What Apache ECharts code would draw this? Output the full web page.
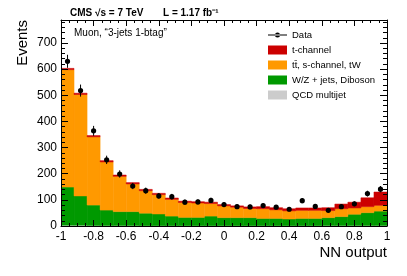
<!DOCTYPE html>
<html>
<head>
<meta charset="utf-8">
<script src="https://cdn.jsdelivr.net/npm/echarts@6/dist/echarts.min.js"></script>
<style>html,body{margin:0;padding:0;background:#fff;}#c{width:407px;height:276px;}</style>
</head>
<body>
<div id="c"></div>
<script>
// Bin edges of the NN output histogram
const binEdges = [-1, -0.92, -0.84, -0.76, -0.68, -0.6, -0.52, -0.44, -0.36, -0.28, -0.2, -0.12, -0.04,
  0.04, 0.12, 0.2, 0.28, 0.36, 0.44, 0.52, 0.6, 0.68, 0.76, 0.84, 0.92, 1];

// Stacked contributions (bottom to top)
const qcdMultijet = [3, 3, 2, 2, 2, 2, 1, 1, 1, 1, 1, 1, 1, 1, 1, 1, 1, 1, 1, 1, 2, 2, 2, 2, 2];
const wzJets      = [146, 112, 78, 59, 53, 53, 48, 45, 37, 32, 32, 37, 31, 31, 31, 28, 28, 26, 28, 28, 30, 34, 43, 49, 55];
const ttbarOther  = [449, 388, 261, 184, 135, 106, 86, 74, 64, 57, 55, 48, 45, 40, 35, 37, 33, 31, 31, 31, 27, 30, 24, 23, 22];
const tChannel    = [5, 5, 5, 5, 5, 5, 5, 5, 5, 5, 5, 5, 5, 5, 6, 8, 8, 8, 9, 9, 11, 18, 22, 34, 51];

// Data with statistical errors
const dataValues = [630, 518, 364, 253, 199, 153, 135, 115, 112, 91, 92, 98, 82, 74, 73, 78, 72, 64, 97, 75, 60, 74, 85, 124, 141];
const dataErrors = [25, 23, 19, 16, 14, 12, 12, 11, 11, 10, 10, 10, 9, 9, 9, 9, 8, 8, 10, 9, 8, 9, 9, 11, 12];

// Axis ticks
const yTicks = [0, 100, 200, 300, 400, 500, 600, 700];
const xTickLabels = ['-1', '-0.8', '-0.6', '-0.4', '-0.2', '0', '0.2', '0.4', '0.6', '0.8', '1'];

const layers = [
  { name: 'QCD multijet', values: qcdMultijet, color: '#cccccc' },
  { name: 'W/Z + jets, Diboson', values: wzJets, color: '#009900' },
  { name: 'tt\u0304, s-channel, tW', values: ttbarOther, color: '#ff9900' },
  { name: 't-channel', values: tChannel, color: '#cc0000' }
];

const FONT = 'Liberation Sans, Arial, Helvetica, sans-serif';
const base = binEdges.slice(0, -1).map(() => 0);
const series = [];
layers.forEach((L) => {
  const items = L.values.map((v, i) => {
    const item = [binEdges[i], binEdges[i + 1], base[i], base[i] + v];
    base[i] += v;
    return item;
  });
  series.push({
    name: L.name,
    type: 'custom',
    xAxisIndex: 0, yAxisIndex: 0,
    itemStyle: { color: L.color },
    encode: { x: [0, 1], y: [2, 3] },
    data: items,
    clip: true,
    z: 2,
    renderItem: function (params, api) {
      const p0 = api.coord([api.value(0), api.value(2)]);
      const p1 = api.coord([api.value(1), api.value(3)]);
      return {
        type: 'rect',
        shape: { x: p0[0], y: p1[1], width: p1[0] - p0[0], height: p0[1] - p1[1] },
        style: { fill: L.color, stroke: L.color, lineWidth: 0.5 }
      };
    }
  });
});

const dataItems = dataValues.map((v, i) => [(binEdges[i] + binEdges[i + 1]) / 2, v, dataErrors[i]]);
series.push({
  name: 'Data',
  type: 'custom',
  xAxisIndex: 0, yAxisIndex: 0,
  itemStyle: { color: '#000' },
  encode: { x: 0, y: 1 },
  data: dataItems,
  z: 5,
  renderItem: function (params, api) {
    const x = api.value(0), y = api.value(1), e = api.value(2);
    const pc = api.coord([x, y]);
    const plo = api.coord([x, y - e]);
    const phi = api.coord([x, y + e]);
    return {
      type: 'group',
      children: [
        { type: 'line', shape: { x1: pc[0], y1: plo[1], x2: pc[0], y2: phi[1] }, style: { stroke: '#000', lineWidth: 1 } },
        { type: 'circle', shape: { cx: pc[0], cy: pc[1], r: 2.6 }, style: { fill: '#000' } }
      ]
    };
  }
});

const axisCommon = {
  z: 10,
  axisLine: { show: true, onZero: false, lineStyle: { color: '#000', width: 1 } },
  splitLine: { show: false }
};

const chart = echarts.init(document.getElementById('c'), null, { renderer: 'canvas' });
chart.setOption({
  animation: false,
  textStyle: { fontFamily: FONT },
  grid: { left: 61, right: 20, top: 20, bottom: 50 },
  xAxis: [
    Object.assign({}, axisCommon, {
      type: 'value', min: -1, max: 1, interval: 0.2, position: 'bottom',
      axisTick: { show: true, inside: true, length: 6, lineStyle: { color: '#000' } },
      minorTick: { show: true, splitNumber: 4, length: 3, lineStyle: { color: '#000' } },
      axisLabel: {
        color: '#000', fontSize: 12, margin: 5, fontFamily: FONT,
        formatter: function (v) {
          const idx = Math.round((v + 1) / 0.2);
          return xTickLabels[idx] !== undefined ? xTickLabels[idx] : '';
        }
      }
    }),
    Object.assign({}, axisCommon, {
      type: 'value', min: -1, max: 1, interval: 0.2, position: 'top',
      axisTick: { show: true, inside: true, length: 6, lineStyle: { color: '#000' } },
      minorTick: { show: true, splitNumber: 4, length: 3, lineStyle: { color: '#000' } },
      axisLabel: { show: false }
    })
  ],
  yAxis: [
    Object.assign({}, axisCommon, {
      type: 'value', min: 0, max: 788, interval: 100, position: 'left',
      axisTick: { show: true, inside: true, length: 7, lineStyle: { color: '#000' } },
      minorTick: { show: true, splitNumber: 5, length: 4, lineStyle: { color: '#000' } },
      axisLabel: {
        color: '#000', fontSize: 12, margin: 4, fontFamily: FONT, showMaxLabel: false,
        formatter: function (v) { return yTicks.indexOf(v) >= 0 ? String(v) : ''; }
      }
    }),
    Object.assign({}, axisCommon, {
      type: 'value', min: 0, max: 788, interval: 100, position: 'right',
      axisTick: { show: true, inside: true, length: 7, lineStyle: { color: '#000' } },
      minorTick: { show: true, splitNumber: 5, length: 4, lineStyle: { color: '#000' } },
      axisLabel: { show: false }
    })
  ],
  legend: {
    orient: 'vertical', left: 268, top: 30, padding: 0,
    itemWidth: 19, itemHeight: 9, itemGap: 5,
    textStyle: { fontSize: 9.5, color: '#000', fontFamily: FONT, lineHeight: 9 },
    data: [
      { name: 'Data', icon: 'path://M0,4 L19,4 L19,5 L0,5 Z M7,4.5 a2.5,2.5 0 1,0 5,0 a2.5,2.5 0 1,0 -5,0 Z' },
      { name: 't-channel', icon: 'rect' },
      { name: 'tt\u0304, s-channel, tW', icon: 'rect' },
      { name: 'W/Z + jets, Diboson', icon: 'rect' },
      { name: 'QCD multijet', icon: 'rect' }
    ]
  },
  graphic: [
    { type: 'text', x: 70, y: 13, style: { text: 'CMS \u221As = 7 TeV', font: 'bold 10px ' + FONT, fill: '#000', verticalAlign: 'middle' } },
    { type: 'text', x: 163, y: 13, style: { text: 'L = 1.17 fb\u207B\u00B9', font: 'bold 10px ' + FONT, fill: '#000', verticalAlign: 'middle' } },
    { type: 'text', x: 74, y: 33, style: { text: 'Muon, \u201C3-jets 1-btag\u201D', font: '10px ' + FONT, fill: '#000', verticalAlign: 'middle' } },
    { type: 'text', x: 23, y: 20, rotation: Math.PI / 2, style: { text: 'Events', font: '15px ' + FONT, fill: '#000', align: 'right', verticalAlign: 'middle' } },
    { type: 'text', x: 387, y: 253, style: { text: 'NN output', font: '15px ' + FONT, fill: '#000', align: 'right', verticalAlign: 'middle' } }
  ],
  series: series
});
</script>
</body>
</html>
